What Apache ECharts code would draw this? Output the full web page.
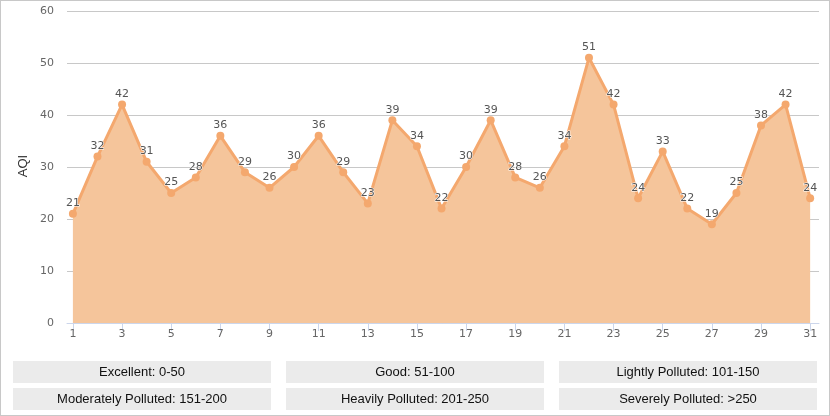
<!DOCTYPE html>
<html><head><meta charset="utf-8">
<script src="https://cdn.jsdelivr.net/npm/echarts@6/dist/echarts.min.js"></script>
<style>
html,body{margin:0;padding:0;background:#fff;}
#c{width:830px;height:416px;box-sizing:border-box;border:1px solid #c8c8c8;}
</style></head><body>
<div id="c"></div>
<script>
const days = [1,2,3,4,5,6,7,8,9,10,11,12,13,14,15,16,17,18,19,20,21,22,23,24,25,26,27,28,29,30,31];
const aqi = [21,32,42,31,25,28,36,29,26,30,36,29,23,39,34,22,30,39,28,26,34,51,42,24,33,22,19,25,38,42,24];
const xTicks = [1,3,5,7,9,11,13,15,17,19,21,23,25,27,29,31];
const legendRow1 = ['Excellent: 0-50','Good: 51-100','Lightly Polluted: 101-150'];
const legendRow2 = ['Moderately Polluted: 151-200','Heavily Polluted: 201-250','Severely Polluted: >250'];

const chart = echarts.init(document.getElementById('c'), null, {renderer:'canvas'});
const boxX = [12, 285, 558], boxW = 258, boxH = 22, rowY = [360, 387];
const graphics = [];
[legendRow1, legendRow2].forEach((row, r) => {
  row.forEach((t, i) => {
    graphics.push({type:'rect', left:boxX[i], top:rowY[r], shape:{width:boxW, height:boxH}, style:{fill:'#ebebeb'}, silent:true});
    graphics.push({type:'text', x:boxX[i]+boxW/2, y:rowY[r]+boxH/2, style:{text:t, fill:'#111', font:'13px "Liberation Sans", Arial, sans-serif', textAlign:'center', textVerticalAlign:'middle'}, silent:true});
  });
});
graphics.push({type:'text', x:22, y:165, rotation:Math.PI/2, style:{text:'AQI', fill:'#333', font:'13px "Liberation Sans", Arial, sans-serif', textAlign:'center', textVerticalAlign:'middle'}, silent:true});

chart.setOption({
  animation:false,
  grid:{left:66, right:10, top:10, bottom:92, containLabel:false},
  xAxis:{
    type:'value', min:0.76, max:31.36,
    splitLine:{show:false},
    axisLine:{show:true, lineStyle:{color:'#ccd6eb', width:1}},
    axisTick:{show:true, length:8, lineStyle:{color:'#ccd6eb'}, customValues:xTicks},
    axisLabel:{color:'#666', fontSize:11, fontFamily:'"DejaVu Sans", sans-serif', margin:6, customValues:xTicks}
  },
  yAxis:{
    type:'value', min:0, max:60, interval:10,
    axisLine:{show:false}, axisTick:{show:false},
    splitLine:{lineStyle:{color:'#c8c8c8', width:1}},
    axisLabel:{color:'#666', fontSize:11, fontFamily:'"DejaVu Sans", sans-serif', margin:13}
  },
  graphic:graphics,
  series:[{
    type:'line',
    data:days.map((d,i)=>[d, aqi[i]]),
    symbol:'circle', symbolSize:8,
    itemStyle:{color:'#f4a86e'},
    lineStyle:{color:'#f4a86e', width:3},
    areaStyle:{color:'#f5c59b', opacity:1},
    label:{show:true, position:'top', distance:1, color:'#555', fontSize:11, fontFamily:'"DejaVu Sans", sans-serif', textBorderColor:'#fff', textBorderWidth:1},
    z:3
  }]
});
</script>
</body></html>
